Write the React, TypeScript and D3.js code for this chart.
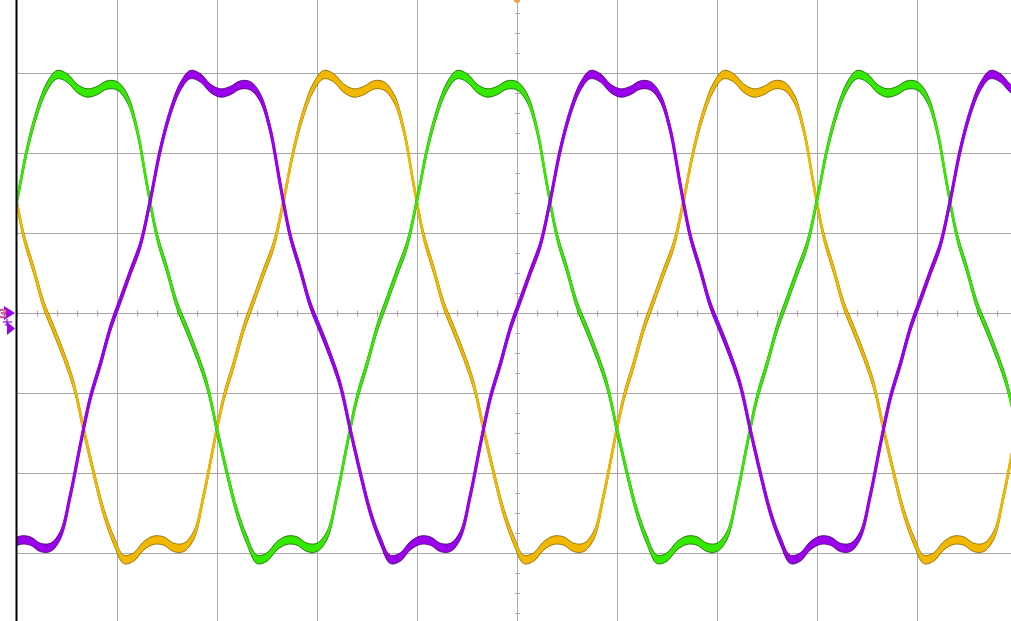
import React from 'react';
import * as d3 from 'd3';

const W = 1011;
const H = 621;

// One period (4 divisions) of the phase waveform, read every 0.1 div, in vertical divisions
const cycleShape = [
  1.41, 2.04, 2.51, 2.83, 2.98, 2.94, 2.81, 2.75, 2.78, 2.85,
  2.84, 2.69, 2.29, 1.6, 0.96, 0.54, 0.1, -0.21, -0.53, -0.9,
  -1.46, -2.0, -2.49, -2.84, -3.08, -3.05, -2.91, -2.84, -2.85, -2.93,
  -2.93, -2.78, -2.28, -1.65, -1.06, -0.64, -0.19, 0.16, 0.51, 0.85,
];
const sampleStep = 0.1; // div between samples
const channelNames = ['CH3', 'CH1', 'CH2'];
const channelDelays = [2.667, 0, 1.333]; // div
const xDivisions = [0, 1, 2, 3, 4, 5, 6, 7, 8, 9, 10];
const yDivisions = [-4, -3, -2, -1, 0, 1, 2, 3, 4];

const styles: Record<string, { fill: string; edge: string; core: number }> = {
  CH3: { fill: '#f2b800', edge: '#8a6400', core: 2.6 },
  CH1: { fill: '#35ea00', edge: '#0f6a00', core: 2.6 },
  CH2: { fill: '#9a00ea', edge: '#4a0078', core: 3.2 },
};

function channelPoints(delay: number) {
  const pts: { t: number; v: number }[] = [];
  const n = cycleShape.length;
  for (let k = -80; k < 160; k++) {
    const t = delay + k * sampleStep;
    if (t < -0.4 || t > 10.4) continue;
    pts.push({ t, v: cycleShape[((k % n) + n) % n] });
  }
  return pts;
}

export default function App() {
  const x = d3.scaleLinear().domain([0, 10]).range([17, 1017]);
  const y = d3.scaleLinear().domain([-4, 4]).range([633, -7]);

  const line = d3
    .line<{ t: number; v: number }>()
    .x((d) => x(d.t))
    .y((d) => y(d.v))
    .curve(d3.curveCatmullRom.alpha(0.5));
  const band = d3
    .area<{ t: number; v: number }>()
    .x((d) => x(d.t))
    .y0((d) => y(d.v) + 4.2)
    .y1((d) => y(d.v) - 4.2)
    .curve(d3.curveCatmullRom.alpha(0.5));

  const gridColor = '#a9a9a9';
  const xMinor = d3.range(0, 10.001, 0.2);
  const yMinor = d3.range(-4, 4.001, 0.25);

  return (
    <svg
      width={W}
      height={H}
      style={{ position: 'absolute', left: 0, top: 0, background: '#fff', display: 'block' }}
    >
      <defs>
        <clipPath id="plot">
          <rect x={17} y={0} width={W - 17} height={H} />
        </clipPath>
      </defs>
      <rect x={0} y={0} width={W} height={H} fill="#fff" />
      {/* grid */}
      {xDivisions.slice(1).map((d) => (
        <line key={'gx' + d} x1={x(d) + 0.5} x2={x(d) + 0.5} y1={0} y2={H} stroke={gridColor} strokeWidth={1} />
      ))}
      {yDivisions.map((d) => (
        <line key={'gy' + d} x1={17} x2={W} y1={y(d) + 0.5} y2={y(d) + 0.5} stroke={gridColor} strokeWidth={1} />
      ))}
      {/* minor ticks on center axes */}
      {xMinor.map((d, i) => (
        <line key={'mx' + i} x1={x(d) + 0.5} x2={x(d) + 0.5} y1={y(0) - 2.5} y2={y(0) + 3.5} stroke={gridColor} strokeWidth={1} />
      ))}
      {yMinor.map((d, i) => (
        <line key={'my' + i} x1={x(5) - 2} x2={x(5) + 3} y1={y(d) + 0.5} y2={y(d) + 0.5} stroke={gridColor} strokeWidth={1} />
      ))}
      {/* waveforms */}
      <g clipPath="url(#plot)">
        {channelNames.map((name, i) => {
          const pts = channelPoints(channelDelays[i]);
          const st = styles[name];
          return (
            <g key={name}>
              <path d={band(pts) || ''} fill={st.fill} stroke={st.edge} strokeWidth={1} strokeOpacity={0.85} />
              <path d={line(pts) || ''} fill="none" stroke={st.fill} strokeWidth={st.core} />
            </g>
          );
        })}
      </g>
      {/* left border */}
      <line x1={16.5} x2={16.5} y1={0} y2={H} stroke="#000" strokeWidth={2} />
      {/* trigger marker */}
      <circle cx={x(5)} cy={0} r={3} fill="#f0a040" />
      {/* channel markers */}
      <polygon points="4,306 15,313 4,320" fill="#9a00ea" />
      <text x={-1} y={318} fontSize={12} fontFamily="DejaVu Sans" fontWeight="bold" fill="#f0a040" stroke="#9a00ea" strokeWidth={0.5}>
        3
      </text>
      <line x1={7} x2={7} y1={319} y2={325} stroke="#9a00ea" strokeWidth={1.2} />
      <line x1={3} x2={12} y1={322} y2={322} stroke="#9a00ea" strokeWidth={1.2} />
      <line x1={5} x2={10} y1={325} y2={325} stroke="#9a00ea" strokeWidth={1.2} />
      <polygon points="7,322 15,328.5 7,335" fill="#9a00ea" />
    </svg>
  );
}
